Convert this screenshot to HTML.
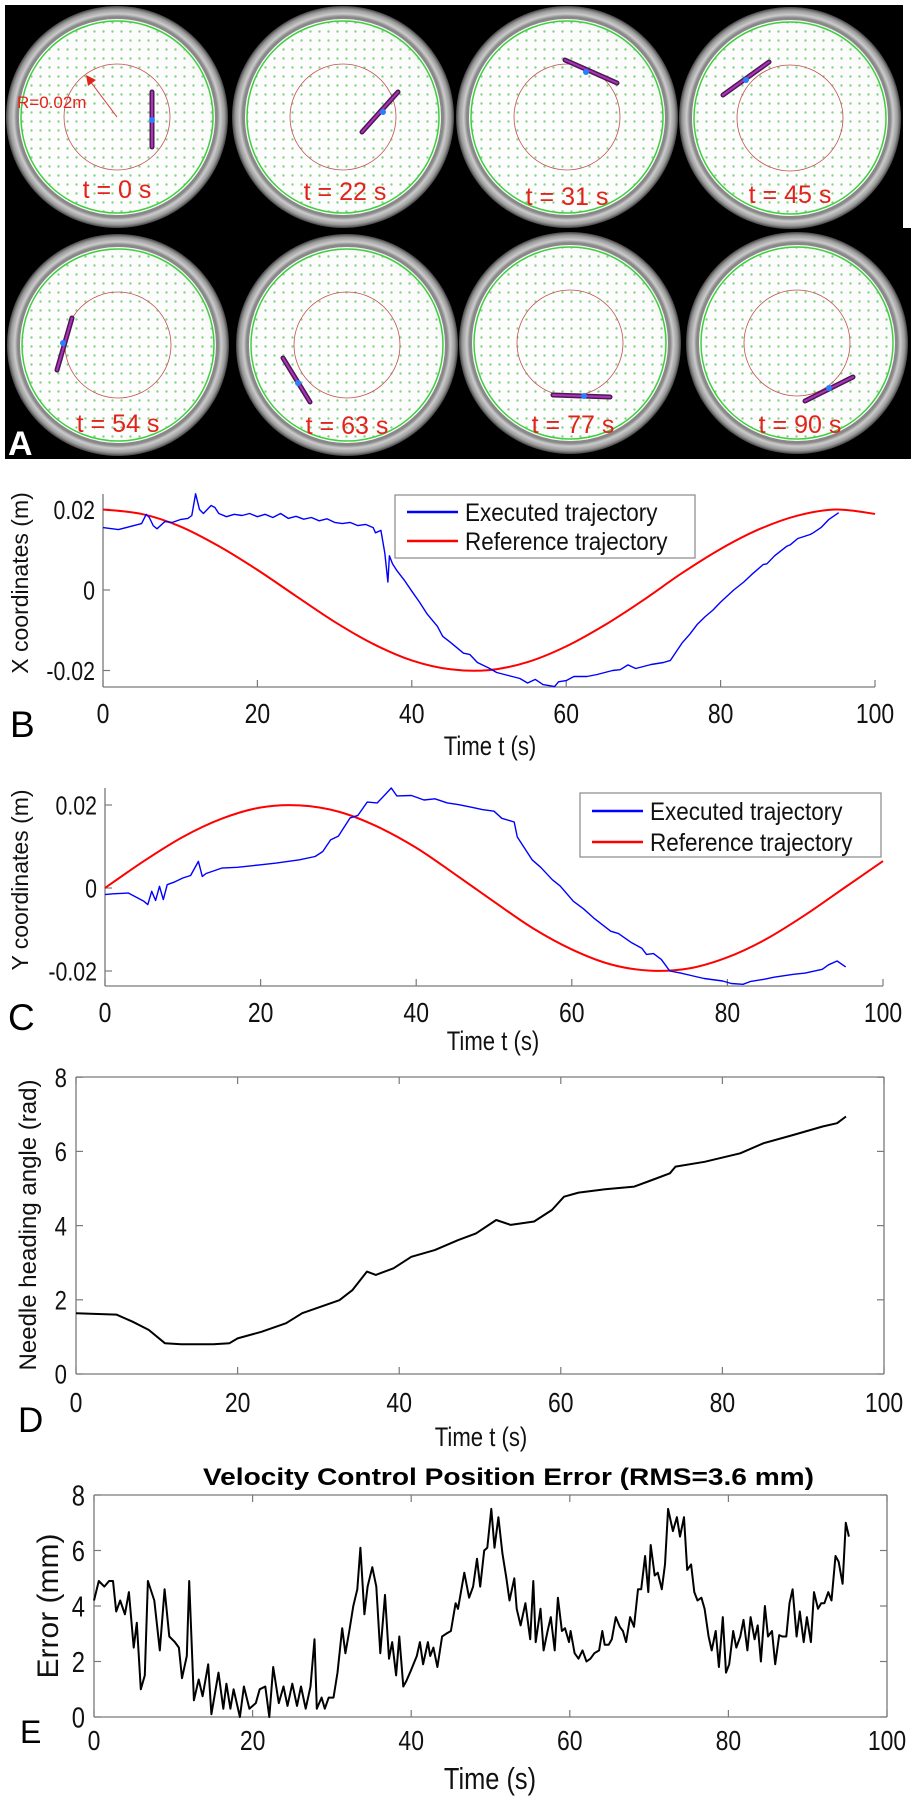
<!DOCTYPE html>
<html><head><meta charset="utf-8"><style>
html,body{margin:0;padding:0;background:#fff;}
svg{display:block;font-family:"Liberation Sans",sans-serif;}
</style></head><body>
<svg id="fig" width="916" height="1800" viewBox="0 0 916 1800" xmlns="http://www.w3.org/2000/svg">
<defs>
<pattern id="dots" width="9" height="9" patternUnits="userSpaceOnUse"><circle cx="4.5" cy="4.5" r="1.2" fill="#7fd67f"/></pattern>
<radialGradient id="rim" cx="0.5" cy="0.5" r="0.5"><stop offset="0.89" stop-color="#666"/><stop offset="0.93" stop-color="#ccc"/><stop offset="0.97" stop-color="#999"/><stop offset="1" stop-color="#444"/></radialGradient>
<radialGradient id="floor" cx="0.45" cy="0.55" r="0.6"><stop offset="0" stop-color="#fff"/><stop offset="0.85" stop-color="#fcfcfc"/><stop offset="1" stop-color="#eee"/></radialGradient>
</defs>
<g id="panelA">
<rect x="5" y="5" width="898" height="228" fill="#000"/>
<rect x="5" y="228" width="906" height="231" fill="#000"/>
</g>
<g id="plots"></g>
</svg>
<script>
// ---------- Panel A data ----------
const dishCx=[117,343,567,790,118,347,570,797];
const dishCy=[117,117,117,118,345,345,343,343];
const dishLabels=["t = 0 s","t = 22 s","t = 31 s","t = 45 s","t = 54 s","t = 63 s","t = 77 s","t = 90 s"];
const labelX=[117,345,567,790,118,347,573,800];
const labelY=[198,200,205,203,432,434,433,433];
const needles=[[152,92,152,147,152,120],[362,132,398,92,383,112],[565,60,617,83,586,72],[723,95,769,62,746,80],
[57,370,72,318,63,343],[283,358,310,402,298,383],[553,395,610,397,584,396],[805,401,853,377,829,388]];
const NS="http://www.w3.org/2000/svg";
function mk(tag,attrs,parent){const e=document.createElementNS(NS,tag);for(const k in attrs)e.setAttribute(k,attrs[k]);parent.appendChild(e);return e;}
const A=document.getElementById('panelA');
for(let i=0;i<8;i++){
  const g=mk('g',{},A);
  
  
  const cx=dishCx[i],cy=dishCy[i];
  mk('circle',{cx:cx,cy:cy,r:111,fill:'url(#rim)'},g);
  mk('circle',{cx:cx,cy:cy,r:99,fill:'url(#floor)',stroke:'#888','stroke-width':2},g);
  mk('circle',{cx:cx,cy:cy,r:96,fill:'url(#dots)'},g);
  mk('circle',{cx:cx,cy:cy,r:96,fill:'none',stroke:'#3fcf3f','stroke-width':1.5},g);
  mk('circle',{cx:cx,cy:cy,r:53,fill:'none',stroke:'#c0504d','stroke-width':0.8},g);
  const n=needles[i];
  mk('line',{x1:n[0],y1:n[1],x2:n[2],y2:n[3],stroke:'#4a1a50','stroke-width':5,'stroke-linecap':'round'},g);
  mk('line',{x1:n[0],y1:n[1],x2:n[2],y2:n[3],stroke:'#b030c0','stroke-width':2,'stroke-linecap':'round'},g);
  mk('circle',{cx:n[4],cy:n[5],r:3,fill:'#2a7fff'},g);
  const t=mk('text',{x:labelX[i],y:labelY[i],'text-anchor':'middle','font-size':25,fill:'#e3231b'},g);
  t.textContent=dishLabels[i];
  
  
}
{
 const g=mk('g',{},A);
 
 
 mk('line',{x1:117,y1:117,x2:90,y2:81,stroke:'#d33','stroke-width':1},g);
 mk('polygon',{points:'86,75 96,80 88,86',fill:'#e3231b'},g);
 const t=mk('text',{x:17,y:108,'font-size':17,fill:'#e3231b'},g);t.textContent='R=0.02m';
 const a=mk('text',{x:8,y:455,'font-size':34,'font-weight':'bold',fill:'#fff'},A);a.textContent='A';
 
 
}

// ---------- Chart data ----------
const tickT=[0,20,40,60,80,100];
const refT=[0,5,10,15,20,25,30,35,40,45,50,55,60,65,70,75,80,85,90,95,100];
const refX=[0.02,0.0189,0.0158,0.0109,0.0050,-0.0015,-0.0079,-0.0134,-0.0175,-0.0197,-0.0199,-0.0179,-0.0140,-0.0087,-0.0025,0.0042,0.0102,0.0151,0.0185,0.0200,0.0189];
const refY=[0,0.0065,0.0123,0.0167,0.0194,0.0199,0.0184,0.0148,0.0097,0.0033,-0.0033,-0.0097,-0.0148,-0.0184,-0.0199,-0.0194,-0.0167,-0.0123,-0.0065,0,0.0065];
const exXT=[0,2,4,5,5.6,6,6.5,7,8,9,10,11,11.5,12,12.5,13,14,14.5,15,16,17,18,19,20,21,22,23,24,25,26,27,28,29,30,31,32,33,34,35,35.3,36,36.5,36.9,37.1,37.5,38,39,40,41,42,43.3,44,45,46.7,47.5,48.5,50,51,52,53,54,55,56,57,58.5,59,60,61,62.7,64,65,66,67,68,69,70,71,72.6,73.5,75,76,77,78,79,80,81.7,83,84,85.5,86,87,88.6,89,90,91.6,92,93,94,95.3];
const exXV=[0.0155,0.015,0.016,0.0165,0.0188,0.018,0.016,0.0152,0.017,0.0168,0.0175,0.0178,0.0185,0.0239,0.02,0.019,0.021,0.0205,0.019,0.0182,0.0188,0.0185,0.019,0.0182,0.0188,0.018,0.019,0.0178,0.0183,0.0176,0.018,0.0172,0.0177,0.0168,0.0165,0.0168,0.016,0.0163,0.0155,0.0142,0.0148,0.0092,0.002,0.0085,0.0065,0.005,0.0025,-0.0003,-0.003,-0.006,-0.009,-0.0115,-0.013,-0.0157,-0.016,-0.018,-0.0194,-0.0205,-0.021,-0.0215,-0.022,-0.0231,-0.0222,-0.0235,-0.024,-0.0228,-0.0225,-0.0215,-0.0215,-0.021,-0.0205,-0.02,-0.0198,-0.0186,-0.0195,-0.019,-0.0185,-0.018,-0.0175,-0.0132,-0.011,-0.0085,-0.0066,-0.005,-0.003,0,0.002,0.0038,0.0063,0.0065,0.0085,0.0109,0.0112,0.0128,0.0138,0.0142,0.0155,0.0175,0.0192];
const exYT=[0,1,2,3,4,5,5.5,6,6.5,7,7.5,8,9,10,11,12,12.5,13,15,17,20,22,25,27,28,29,30,31.5,32.5,33.7,35,36.8,37.5,39.4,41,42.4,44,45.4,47,48.5,50,51,52.6,53,54.9,56,57.5,58.5,60.2,61.5,62.8,65,66,67.7,69,69.6,70.5,71.5,72.6,74,75.6,77,79.4,80.5,82,83,84.7,86,88.5,90,92.2,93,94.1,95.2];
const exYV=[-0.0016,-0.0014,-0.0013,-0.0012,-0.0022,-0.0032,-0.004,-0.0008,-0.003,0.0004,-0.0028,0.0008,0.0015,0.0024,0.003,0.0064,0.0028,0.0035,0.0048,0.005,0.0056,0.006,0.0068,0.0076,0.0088,0.0116,0.0125,0.0169,0.0175,0.0207,0.0205,0.0241,0.0222,0.0223,0.0212,0.0215,0.0205,0.0201,0.0195,0.0189,0.0185,0.0168,0.0159,0.0123,0.0068,0.005,0.002,0.0005,-0.0032,-0.005,-0.0072,-0.0104,-0.011,-0.0132,-0.0145,-0.016,-0.0158,-0.0172,-0.02,-0.0205,-0.0212,-0.0218,-0.0224,-0.023,-0.0232,-0.0225,-0.022,-0.0215,-0.0208,-0.0205,-0.0196,-0.0185,-0.0176,-0.019];
const angT=[0,5,7,9,11,13,15,17,19,20,23,26,28,32.6,34.2,36,37.1,39.3,41.5,44.4,47.3,49.5,52,53.8,56.7,58.9,60.4,62.2,65.5,69.1,71.3,73.5,74.2,77.8,82.2,85.1,88.7,92.4,94.2,95.3];
const angV=[1.64,1.6,1.41,1.19,0.83,0.8,0.8,0.8,0.83,0.96,1.14,1.37,1.64,1.99,2.26,2.76,2.67,2.85,3.16,3.34,3.61,3.79,4.15,4.02,4.11,4.42,4.78,4.89,4.98,5.05,5.23,5.41,5.59,5.72,5.95,6.22,6.44,6.67,6.76,6.94];
const errT=[0,0.6,1.3,1.9,2.4,2.8,3.3,3.9,4.4,5.0,5.4,5.9,6.4,6.8,7.6,8.3,8.9,9.5,10.2,10.7,11.1,11.7,12.0,12.6,13.2,13.7,14.4,14.8,15.7,16.3,16.7,17.2,17.6,18.4,18.9,19.6,20.4,20.9,21.6,22.1,22.6,23.3,23.9,24.4,25.0,25.6,26.1,26.7,27.3,27.8,28.1,28.7,29.1,29.6,30.2,30.7,31.3,31.7,32.2,32.7,33.2,33.6,34.1,34.5,35.1,35.6,36.1,36.7,37.2,37.6,38.1,38.5,39.0,39.4,40.0,40.7,41.1,41.5,42.1,42.4,42.8,43.3,43.9,44.4,45.0,45.6,45.9,46.7,47.3,47.8,48.3,48.7,49.2,49.6,50.1,50.5,51.0,51.5,52.0,52.4,53.0,53.3,53.8,54.4,55.0,55.4,55.7,56.3,56.7,57.2,57.6,58.1,58.5,59.0,59.4,59.9,60.1,60.6,61.1,61.6,62.1,62.6,63.1,63.7,64.1,64.4,64.9,65.3,65.8,66.3,66.7,67.1,67.6,68.1,68.6,69.0,69.5,69.9,70.2,70.7,71.1,71.6,72.0,72.4,73.0,73.5,73.9,74.4,74.8,75.3,75.7,76.1,76.6,77.0,77.5,77.9,78.4,78.8,79.3,79.7,80.1,80.6,81.0,81.5,81.9,82.4,82.8,83.3,83.7,84.1,84.6,85.0,85.5,85.9,86.4,86.8,87.3,87.7,88.1,88.6,89.0,89.5,89.9,90.4,90.8,91.3,91.7,92.1,92.6,93.0,93.5,93.9,94.4,94.8,95.2];
const errV=[4.2,4.9,4.7,4.9,4.9,3.8,4.2,3.7,4.5,2.5,3.4,1.0,1.5,4.9,4.2,2.4,4.6,2.9,2.7,2.5,1.4,2.2,4.9,0.6,1.35,0.75,1.9,0.1,1.6,0.3,1.2,0.3,1.0,0.0,1.1,0.3,0.5,1.0,1.1,0.0,1.8,0.5,1.1,0.4,1.2,0.4,1.1,0.3,1.1,2.8,0.3,0.7,0.3,0.7,0.7,1.6,3.2,2.3,3.1,4.0,4.6,6.1,3.7,4.7,5.4,4.7,2.3,4.4,2.1,2.7,1.5,2.9,1.1,1.3,1.7,2.2,2.7,1.9,2.7,2.2,2.5,1.8,2.9,3.0,3.1,4.1,3.9,5.2,4.3,4.7,5.7,4.7,6.0,6.1,7.5,6.1,7.2,5.9,5.0,4.2,5.0,3.9,3.3,4.1,2.8,4.9,2.7,3.9,2.4,3.1,3.6,2.4,4.3,3.1,3.2,2.7,3.1,2.3,2.1,2.4,2.0,2.1,2.3,2.4,3.1,2.6,2.6,2.8,3.6,3.25,3.1,2.7,3.6,3.25,4.6,4.6,5.8,4.5,6.2,5.1,5.2,4.6,5.5,7.5,6.7,7.2,6.5,7.2,5.3,5.5,4.5,4.2,4.3,3.9,2.9,2.4,3.1,1.8,3.6,1.6,1.9,3.1,2.5,2.9,3.5,2.4,3.6,2.8,3.3,2.0,4.0,2.9,3.1,1.9,2.95,2.9,2.9,4.1,4.6,2.9,3.8,2.7,3.6,2.7,4.5,3.9,4.1,4.1,4.5,4.2,5.8,5.6,4.8,7.0,6.5];

const P=document.getElementById('plots');
function txt(parent,x,y,s,size,opts){
  opts=opts||{};
  const sx=opts.sx||0.82;
  const t=mk('text',{transform:`translate(${x},${y}) scale(${sx},1)`,'font-size':size,'text-anchor':opts.anchor||'middle',fill:opts.fill||'#111'},parent);
  if(opts.bold)t.setAttribute('font-weight','bold');
  t.textContent=s;return t;
}
function rot(parent,x,y,s,size){
  const t=mk('text',{transform:`translate(${x},${y}) rotate(-90)`,'font-size':size,'text-anchor':'middle',fill:'#111'},parent);
  t.textContent=s;return t;
}
function path(parent,xs,ys,sx,sy,color,w){
  let d='';for(let i=0;i<xs.length;i++)d+=(i?'L':'M')+sx(xs[i]).toFixed(1)+','+sy(ys[i]).toFixed(1);
  return mk('path',{d:d,fill:'none',stroke:color,'stroke-width':w,'stroke-linejoin':'round'},parent);
}
function smooth(parent,xs,ys,sx,sy,color,w){
  const p=xs.map((x,i)=>[sx(x),sy(ys[i])]);
  let d='M'+p[0][0]+','+p[0][1];
  for(let i=0;i<p.length-1;i++){
    const p0=p[Math.max(0,i-1)],p1=p[i],p2=p[i+1],p3=p[Math.min(p.length-1,i+2)];
    d+=`C${p1[0]+(p2[0]-p0[0])/6},${p1[1]+(p2[1]-p0[1])/6} ${p2[0]-(p3[0]-p1[0])/6},${p2[1]-(p3[1]-p1[1])/6} ${p2[0]},${p2[1]}`;
  }
  return mk('path',{d:d,fill:'none',stroke:color,'stroke-width':w},parent);
}
function axes(cfg){
  const g=mk('g',{},P);
  
  
  const sx=t=>cfg.x0+(t-0)/100*(cfg.x1-cfg.x0);
  const sy=v=>cfg.yz-(v)*cfg.k;
  const ax='#7a7a7a';
  mk('line',{x1:cfg.x0,y1:cfg.top,x2:cfg.x0,y2:cfg.bot,stroke:ax,'stroke-width':1.3},g);
  mk('line',{x1:cfg.x0,y1:cfg.bot,x2:cfg.x1,y2:cfg.bot,stroke:ax,'stroke-width':1.3},g);
  if(cfg.box){
    mk('line',{x1:cfg.x0,y1:cfg.top,x2:cfg.x1,y2:cfg.top,stroke:ax,'stroke-width':1.3},g);
    mk('line',{x1:cfg.x1,y1:cfg.top,x2:cfg.x1,y2:cfg.bot,stroke:ax,'stroke-width':1.3},g);
  }
  tickT.forEach(t=>{
    const x=sx(t);
    mk('line',{x1:x,y1:cfg.bot,x2:x,y2:cfg.bot-7,stroke:ax,'stroke-width':1.2},g);
    if(cfg.box)mk('line',{x1:x,y1:cfg.top,x2:x,y2:cfg.top+7,stroke:ax,'stroke-width':1.2},g);
    const l=txt(g,x,cfg.xtl,String(t),28);
    
    
  });
  cfg.yticks.forEach((v,i)=>{
    const y=sy(v);
    mk('line',{x1:cfg.x0,y1:y,x2:cfg.x0+7,y2:y,stroke:ax,'stroke-width':1.2},g);
    if(cfg.box)mk('line',{x1:cfg.x1,y1:y,x2:cfg.x1-7,y2:y,stroke:ax,'stroke-width':1.2},g);
    const l=txt(g,cfg.ytlx,y+cfg.ytls*0.36,cfg.ylabels[i],cfg.ytls,{anchor:'end'});
    
    
  });
  const xl=txt(g,cfg.xlx,cfg.xly,cfg.xlabel,cfg.xls||27);
  
  
  const yl=rot(g,cfg.ylx,cfg.yly,cfg.ylabel,cfg.yls);
  
  
  const pl=mk('text',{x:cfg.plx,y:cfg.ply,'font-size':cfg.pls||37,fill:'#000'},g);
  pl.textContent=cfg.panel;
  
  
  return {g,sx,sy};
}
function legend(g,x,y,w,h,y1,y2){
  const lg=mk('g',{},g);
  
  
  mk('rect',{x:x,y:y,width:w,height:h,fill:'#fff',stroke:'#888','stroke-width':1.2},lg);
  const e1=mk('g',{},lg);
  
  
  mk('line',{x1:x+12,y1:y1,x2:x+63,y2:y1,stroke:'#0000ff','stroke-width':2.5},e1);
  txt(e1,x+70,y1+9,'Executed trajectory',25,{anchor:'start',sx:0.9});
  const e2=mk('g',{},lg);
  
  
  mk('line',{x1:x+12,y1:y2,x2:x+63,y2:y2,stroke:'#ff0000','stroke-width':2.5},e2);
  txt(e2,x+70,y2+9,'Reference trajectory',25,{anchor:'start',sx:0.9});
}
// Panel B
{
 const c=axes({name:'panel-b-x-coordinates',x0:103,x1:875,top:494,bot:687,yz:590,k:80.5/0.02,box:false,
   yticks:[-0.02,0,0.02],ylabels:['-0.02','0','0.02'],ytlx:95,ytls:26,xtl:723,xlabel:'Time t (s)',xlx:490,xly:755,
   ylabel:'X coordinates (m)',ylx:28,yly:583,yls:23,panel:'B',plx:10,ply:737});
 const r=smooth(c.g,refT,refX,c.sx,c.sy,'#ff0000',2);
 
 
 const b=path(c.g,exXT,exXV,c.sx,c.sy,'#0000ff',1.4);
 
 
 legend(c.g,395,495,300,63,512,541);
}
// Panel C
{
 const c=axes({name:'panel-c-y-coordinates',x0:105,x1:883,top:788,bot:986,yz:888,k:83/0.02,box:false,
   yticks:[-0.02,0,0.02],ylabels:['-0.02','0','0.02'],ytlx:97,ytls:26,xtl:1022,xlabel:'Time t (s)',xlx:493,xly:1050,
   ylabel:'Y coordinates (m)',ylx:28,yly:880,yls:23,panel:'C',plx:8,ply:1030});
 const r=smooth(c.g,refT,refY,c.sx,c.sy,'#ff0000',2);
 
 
 const b=path(c.g,exYT,exYV,c.sx,c.sy,'#0000ff',1.4);
 
 
 legend(c.g,580,793,301,64,811,842);
}
// Panel D
{
 const c=axes({name:'panel-d-heading-angle',x0:76,x1:884,top:1077,bot:1374,yz:1374,k:37.1,box:true,
   yticks:[0,2,4,6,8],ylabels:['0','2','4','6','8'],ytlx:67,ytls:27,xtl:1412,xlabel:'Time t (s)',xlx:481,xly:1446,
   ylabel:'Needle heading angle (rad)',ylx:36,yly:1225,yls:24,panel:'D',plx:18,ply:1432,pls:35});
 const l=path(c.g,angT,angV,c.sx,c.sy,'#000',2);
 
 
}
// Panel E
{
 const c=axes({name:'panel-e-position-error',x0:94,x1:887,top:1495,bot:1717,yz:1717,k:27.75,box:true,
   yticks:[0,2,4,6,8],ylabels:['0','2','4','6','8'],ytlx:85,ytls:29,xtl:1750,xlabel:'Time (s)',xlx:490,xly:1789,xls:31,
   ylabel:'Error (mm)',ylx:58,yly:1606,yls:30,panel:'E',plx:20,ply:1743,pls:32});
 const t=mk('text',{x:203,y:1485,'font-size':24,'font-weight':'bold',fill:'#000',textLength:611,lengthAdjust:'spacingAndGlyphs'},c.g);
 t.textContent='Velocity Control Position Error  (RMS=3.6 mm)';
 
 
 const l=path(c.g,errT,errV,c.sx,c.sy,'#000',2);
 
 
}
</script>
</body></html>
